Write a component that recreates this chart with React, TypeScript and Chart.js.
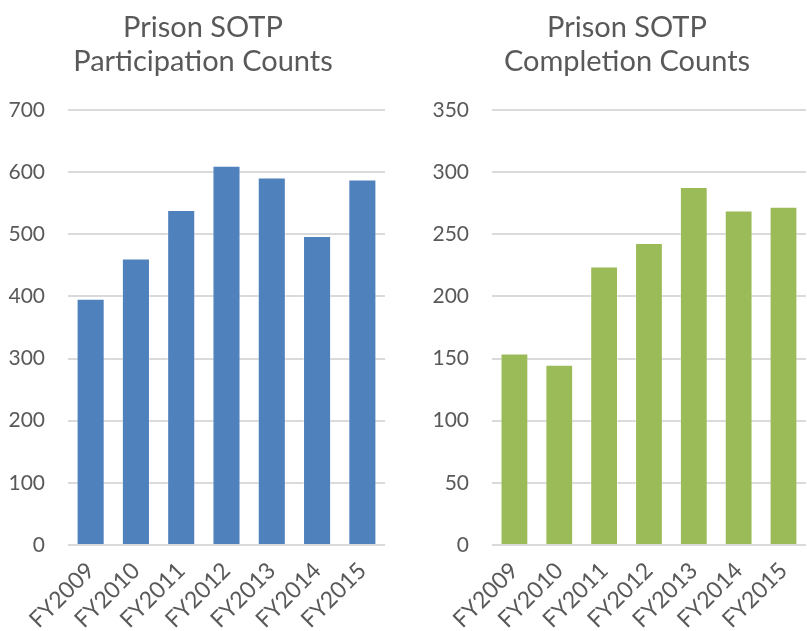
import React, { useEffect, useRef } from "react";
import { Chart, registerables } from "chart.js";

Chart.register(...registerables);

const categories = ["FY2009", "FY2010", "FY2011", "FY2012", "FY2013", "FY2014", "FY2015"];
const participationCounts = [396, 461, 539, 610, 591, 497, 588];
const completionCounts = [154, 145, 224, 243, 288, 269, 272];
const participationTitle = ["Prison SOTP", "Participation Counts"];
const completionTitle = ["Prison SOTP", "Completion Counts"];

const TEXT = "#595959";
const FONT = "Lato, 'Open Sans', sans-serif";

function makeConfig(
  title: string[],
  values: number[],
  color: string,
  max: number,
  step: number,
  yWidth: number,
  padRight: number,
  titleLeft: number,
  titleRight: number
): any {
  return {
    type: "bar",
    data: {
      labels: categories,
      datasets: [
        {
          data: values,
          backgroundColor: color,
          borderColor: "rgba(255,255,255,0.35)",
          borderWidth: 1,
          categoryPercentage: 1,
          barPercentage: 0.62,
        },
      ],
    },
    options: {
      responsive: false,
      animation: false,
      layout: { padding: { left: 0, right: padRight, top: 0, bottom: 0 } },
      plugins: {
        legend: { display: false },
        tooltip: { enabled: false },
        title: {
          display: true,
          text: title,
          color: TEXT,
          font: { family: FONT, size: 29, weight: "normal", lineHeight: 1.17 },
          padding: { top: 11, bottom: 31 },
        },
      },
      scales: {
        x: {
          grid: { display: false },
          border: { display: false },
          ticks: {
            color: TEXT,
            font: { family: FONT, size: 23 },
            minRotation: 45,
            maxRotation: 45,
            autoSkip: false,
            padding: 4,
          },
          afterFit: (s: any) => {
            s.height = 86;
          },
        },
        y: {
          min: 0,
          max: max,
          border: { display: false },
          grid: { color: "#dadada", lineWidth: 2, drawTicks: false },
          ticks: {
            stepSize: step,
            color: TEXT,
            font: { family: FONT, size: 21 },
            padding: 23,
          },
          afterFit: (s: any) => {
            s.width = yWidth;
          },
        },
      },
    },
    plugins: [
      {
        id: "titleSpan",
        afterLayout(chart: any) {
          const t = chart.titleBlock;
          if (t) {
            t.left = titleLeft;
            t.right = titleRight;
            t.width = titleRight - titleLeft;
          }
        },
      },
    ],
  };
}

function BarChart(props: { config: any; width: number; height: number; left: number }) {
  const ref = useRef<HTMLCanvasElement | null>(null);
  useEffect(() => {
    if (!ref.current) return;
    const chart = new Chart(ref.current, props.config);
    return () => chart.destroy();
  }, []);
  return (
    <canvas
      ref={ref}
      width={props.width}
      height={props.height}
      style={{ position: "absolute", left: props.left, top: 0, width: props.width, height: props.height }}
    />
  );
}

export default function App() {
  const left = makeConfig(participationTitle, participationCounts, "#4f81bd", 700, 100, 68, 15, 21, 385);
  const right = makeConfig(completionTitle, completionCounts, "#9bbb59", 350, 50, 92, 0, 47, 407);
  return (
    <div style={{ position: "fixed", left: 0, top: 0, width: 807, height: 631, background: "#ffffff" }}>
      <BarChart config={left} width={400} height={631} left={0} />
      <BarChart config={right} width={407} height={631} left={400} />
    </div>
  );
}
